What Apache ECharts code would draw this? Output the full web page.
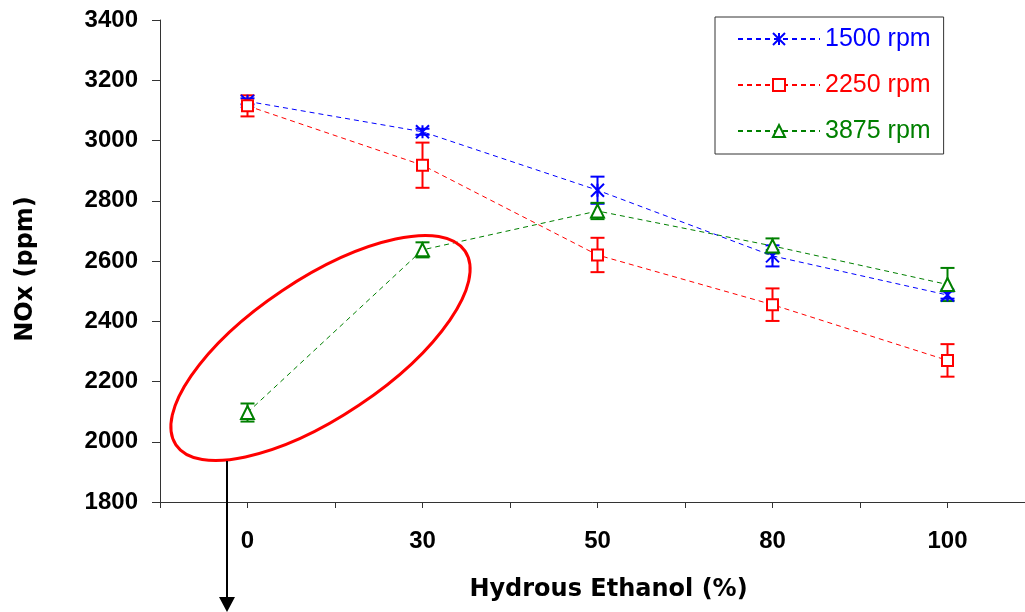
<!DOCTYPE html>
<html>
<head>
<meta charset="utf-8">
<script src="https://cdn.jsdelivr.net/npm/echarts@6/dist/echarts.min.js"></script>
<style>html,body{margin:0;padding:0;background:#fff;}#c{width:1025px;height:612px;}</style>
</head>
<body>
<div id="c"></div>
<script>
const categories = ['0', '30', '50', '80', '100'];
const seriesNames = ['1500 rpm', '2250 rpm', '3875 rpm'];
const rpm1500 = [3130, 3029, 2835, 2617, 2487];
const err1500 = [10, 10, 45, 35, 12];
const rpm2250 = [3115, 2918, 2620, 2455, 2270];
const err2250 = [35, 75, 57, 54, 54];
const rpm3875 = [2097, 2637, 2766, 2650, 2522];
const err3875 = [30, 25, 27, 25, 55];
const yMin = 1800, yMax = 3400, yStep = 200;

const colors = ['#0000ff', '#ff0000', '#008000'];
const values = [rpm1500, rpm2250, rpm3875];
const errors = [err1500, err2250, err3875];
const symbols = ['path://M0 0L12 12M12 0L0 12M6 0L6 12', 'rect', 'triangle'];
const symbolSizes = [13, 11, 13];

const chart = echarts.init(document.getElementById('c'), null, {renderer: 'canvas'});

const series = [];
values.forEach((vals, s) => {
  series.push({
    type: 'custom',
    name: seriesNames[s] + ' err',
    z: 1,
    silent: true,
    data: vals.map((v, i) => [i, v - errors[s][i], v + errors[s][i]]),
    renderItem: function (params, api) {
      const x = api.value(0);
      const lo = api.coord([x, api.value(1)]);
      const hi = api.coord([x, api.value(2)]);
      const hw = 7;
      const st = {stroke: colors[s], lineWidth: 2};
      return {
        type: 'group',
        children: [
          {type: 'line', shape: {x1: lo[0], y1: lo[1], x2: hi[0], y2: hi[1]}, style: st},
          {type: 'line', shape: {x1: lo[0] - hw, y1: lo[1], x2: lo[0] + hw, y2: lo[1]}, style: st},
          {type: 'line', shape: {x1: hi[0] - hw, y1: hi[1], x2: hi[0] + hw, y2: hi[1]}, style: st}
        ]
      };
    }
  });
});
values.forEach((vals, s) => {
  series.push({
    type: 'line',
    name: seriesNames[s],
    z: 2 + s,
    data: vals.map((v, i) => [i, v]),
    symbol: symbols[s],
    symbolSize: symbolSizes[s],
    showAllSymbol: true,
    lineStyle: {color: colors[s], width: 1, type: [5, 4]},
    itemStyle: {color: s === 0 ? colors[s] : '#ffffff', borderColor: colors[s], borderWidth: 2},
    emphasis: {disabled: true}
  });
});

const option = {
  animation: false,
  backgroundColor: '#ffffff',
  grid: {left: 160, top: 20, width: 875, height: 482, containLabel: false, outerBoundsMode: 'none'},
  legend: {
    orient: 'vertical',
    left: 715,
    top: 17,
    padding: [7, 13, 8, 22],
    borderColor: '#333333',
    borderWidth: 1,
    borderRadius: 0,
    itemWidth: 82,
    itemHeight: 15,
    itemGap: 16,
    textStyle: {fontSize: 25, fontFamily: 'Liberation Sans', lineHeight: 30},
    data: seriesNames.map((n, s) => ({name: n, textStyle: {color: colors[s]}}))
  },
  xAxis: {
    type: 'value',
    min: -0.5,
    max: 4.5,
    interval: 0.5,
    splitLine: {show: false},
    axisLine: {onZero: false, lineStyle: {color: '#333333', width: 1}},
    axisTick: {show: true, length: 6, lineStyle: {color: '#333333'}},
    axisLabel: {
      margin: 27,
      fontSize: 24,
      fontWeight: 'bold',
      fontFamily: 'Liberation Sans',
      color: '#000000',
      formatter: v => (Number.isInteger(v) && categories[v] !== undefined) ? categories[v] : ''
    },
    name: 'Hydrous Ethanol (%)',
    nameLocation: 'middle',
    nameGap: 76,
    nameTextStyle: {fontSize: 24, fontWeight: 'bold', fontFamily: 'DejaVu Sans', color: '#000000', padding: [0, 0, 0, 22]}
  },
  yAxis: {
    type: 'value',
    min: yMin,
    max: yMax,
    interval: yStep,
    splitLine: {show: false},
    axisLine: {show: true, onZero: false, lineStyle: {color: '#333333', width: 1}},
    axisTick: {show: true, length: 8, lineStyle: {color: '#333333'}},
    axisLabel: {margin: 22, fontSize: 24, fontWeight: 'bold', fontFamily: 'Liberation Sans', color: '#000000', formatter: v => String(v)},
    name: 'NOx (ppm)',
    nameLocation: 'middle',
    nameGap: 122,
    nameTextStyle: {fontSize: 24, fontWeight: 'bold', fontFamily: 'DejaVu Sans', color: '#000000', padding: [0, 16, 0, 0]}
  },
  graphic: [
    {
      type: 'ellipse',
      x: 320.5, y: 348,
      rotation: 33.8 * Math.PI / 180,
      shape: {cx: 0, cy: 0, rx: 174, ry: 69},
      style: {fill: 'none', stroke: '#ff0000', lineWidth: 3},
      z: 100
    },
    {
      type: 'line',
      shape: {x1: 227, y1: 461, x2: 227, y2: 598},
      style: {stroke: '#000000', lineWidth: 2},
      z: 100
    },
    {
      type: 'polygon',
      shape: {points: [[219, 597], [235, 597], [227, 612]]},
      style: {fill: '#000000'},
      z: 100
    }
  ],
  series: series
};
chart.setOption(option);
</script>
</body>
</html>
